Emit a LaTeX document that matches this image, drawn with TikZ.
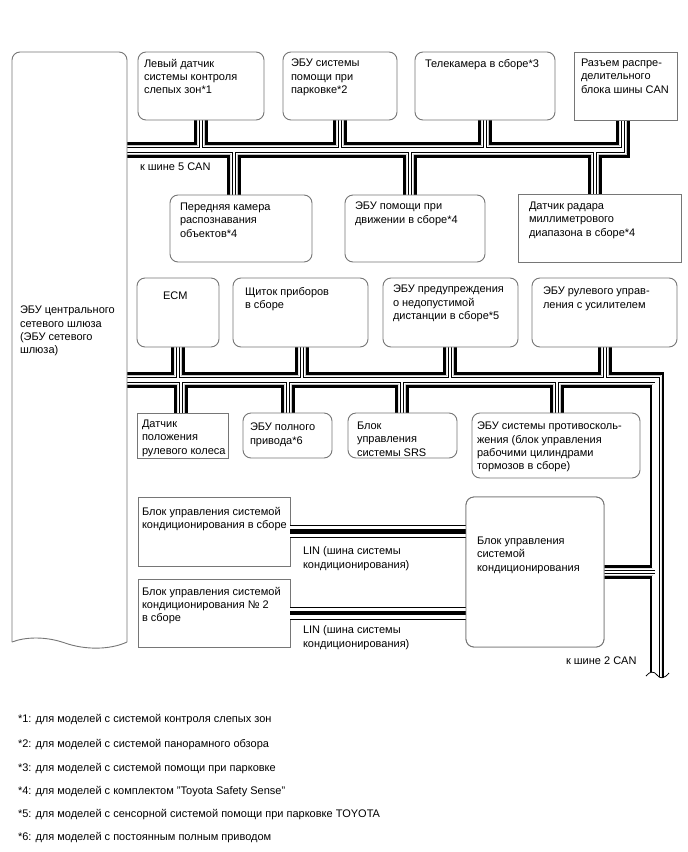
\documentclass[tikz,border=0pt]{standalone}
\usepackage{fontspec}
\setmainfont{Liberation Sans}
\definecolor{bordergray}{RGB}{118,118,118}
\tikzset{
  rbox/.style={draw=bordergray, line width=0.9pt, fill=white, rounded corners=8pt, inner sep=0pt, outer sep=0pt, anchor=north west},
  sbox/.style={draw=bordergray, line width=0.9pt, fill=white, inner sep=0pt, outer sep=0pt, anchor=north west},
  lbl/.style={anchor=north west, inner sep=0pt, outer sep=0pt, align=left, font=\fontsize{11}{13.4}\selectfont},
  note/.style={anchor=north west, inner sep=0pt, outer sep=0pt, align=left, font=\fontsize{11}{12}\selectfont},
  busout/.style={line width=6.8pt, draw=black},
  busgap/.style={line width=1.4pt, draw=white},
  buserase/.style={line width=8.6pt, draw=white},
  busthin/.style={line width=4.8pt, draw=black},
  busthingap/.style={line width=3.0pt, draw=white},
  linout/.style={line width=13pt, draw=black},
  lingap/.style={line width=11pt, draw=white},
  lincore/.style={line width=4.6pt, draw=black},
}
\newcommand\busA[1]{#1 (100,145.5) -- (197.75,145.5) -- (197.75,112) -- (204.25,112) -- (204.25,145.5)
 -- (336.75,145.5) -- (336.75,112) -- (343.25,112) -- (343.25,145.5)
 -- (481.75,145.5) -- (481.75,112) -- (488.25,112) -- (488.25,145.5)
 -- (619.75,145.5) -- (619.75,112) -- (626.25,112) -- (626.25,154.5)
 -- (598.25,154.5) -- (598.25,203) -- (591.75,203) -- (591.75,154.5)
 -- (413.25,154.5) -- (413.25,203) -- (406.75,203) -- (406.75,154.5)
 -- (237.25,154.5) -- (237.25,203) -- (230.75,203) -- (230.75,154.5)
 -- (100,154.5) -- cycle;}
\newcommand\busB[1]{#1 (100,375.5) -- (174.75,375.5) -- (174.75,339) -- (181.25,339) -- (181.25,375.5)
 -- (298.75,375.5) -- (298.75,339) -- (305.25,339) -- (305.25,375.5)
 -- (446.75,375.5) -- (446.75,339) -- (453.25,339) -- (453.25,375.5)
 -- (601.75,375.5) -- (601.75,339) -- (608.25,339) -- (608.25,375.5)
 -- (661,375.5) -- (661,700) -- (653,700) -- (653,575.25) -- (596,575.25) -- (596,568.75) -- (653,568.75)
 -- (653,384.5) -- (560.25,384.5) -- (560.25,421) -- (553.75,421) -- (553.75,384.5)
 -- (405.25,384.5) -- (405.25,421) -- (398.75,421) -- (398.75,384.5)
 -- (291.25,384.5) -- (291.25,421) -- (284.75,421) -- (284.75,384.5)
 -- (184.25,384.5) -- (184.25,421) -- (177.75,421) -- (177.75,384.5)
 -- (100,384.5) -- cycle;}
\begin{document}
\begin{tikzpicture}[x=1pt,y=-1pt]
\useasboundingbox[fill=white] (0,0) rectangle (688,852);

% CAN bus (upper)
\busA{\draw[busout]}
\busA{\draw[busgap]}
\begin{scope}
\busA{\clip}
\busA{\draw[buserase]}
\busA{\draw[busthin]}
\busA{\draw[busthingap]}
\end{scope}

% CAN bus (middle)
\busB{\draw[busout]}
\busB{\draw[busgap]}
\begin{scope}
\busB{\clip}
\busB{\draw[buserase]}
\busB{\draw[busthin]}
\busB{\draw[busthingap]}
\end{scope}

% break of the trunk
\fill[white] (640,676) .. controls (650,671) and (654,671) .. (657,675) .. controls (660,679) and (664,679) .. (674,673) -- (674,710) -- (640,710) -- cycle;
\draw[line width=0.8pt] (646,676) .. controls (650,671) and (654,671) .. (657,675) .. controls (660,679) and (664,679) .. (669,673);

% boxes
\node[sbox, minimum width=152pt, minimum height=69pt] (b16) at (138,497) {};
\node[sbox, minimum width=152pt, minimum height=68pt] (b17) at (138,579) {};
\node[rbox, minimum width=138pt, minimum height=150pt] (b18) at (466,497) {};

% LIN lines
\draw[linout] (b16.east) -- (b16.east -| b18.west);
\draw[lingap] (b16.east) -- (b16.east -| b18.west);
\draw[lincore] (b16.east) -- (b16.east -| b18.west);
\draw[linout] (b17.east) -- (b17.east -| b18.west);
\draw[lingap] (b17.east) -- (b17.east -| b18.west);
\draw[lincore] (b17.east) -- (b17.east -| b18.west);
\node[rbox, minimum width=138pt, minimum height=150pt] at (466,497) {};

% gateway
\draw[draw=bordergray, line width=0.9pt, fill=white, rounded corners=8pt] (127,642) -- (127,52) -- (12,52) -- (12,642);
\draw[draw=bordergray, line width=0.9pt] (12,642) .. controls (25,637) and (45,636) .. (65,643) .. controls (85,650) and (110,650) .. (127,642);
\node[lbl] (gw) at (20,306) {ЭБУ центрального\\сетевого шлюза\\(ЭБУ сетевого\\шлюза)};

\node[rbox, minimum width=126pt, minimum height=68pt] (b1) at (138,52) {};
\node[rbox, minimum width=114pt, minimum height=68pt] (b2) at (283,52) {};
\node[rbox, minimum width=140pt, minimum height=68pt] (b3) at (415,52) {};
\node[sbox, minimum width=103pt, minimum height=68pt] (b4) at (574,52) {};
\node[rbox, minimum width=142pt, minimum height=67pt] (b5) at (170,195) {};
\node[rbox, minimum width=140pt, minimum height=67pt] (b6) at (345,195) {};
\node[sbox, minimum width=163pt, minimum height=68pt] (b7) at (518,194) {};
\node[rbox, minimum width=82pt, minimum height=69pt] (b8) at (137,278) {};
\node[rbox, minimum width=135pt, minimum height=69pt] (b9) at (233,278) {};
\node[rbox, minimum width=135pt, minimum height=69pt] (b10) at (383,278) {};
\node[rbox, minimum width=145pt, minimum height=69pt] (b11) at (532,278) {};
\node[sbox, minimum width=91pt, minimum height=45pt] (b12) at (137,413) {};
\node[rbox, minimum width=89pt, minimum height=45pt] (b13) at (243,413) {};
\node[rbox, minimum width=109pt, minimum height=45pt] (b14) at (348,413) {};
\node[rbox, minimum width=168pt, minimum height=65pt] (b15) at (472,413) {};

% texts
\node[lbl] (t1) at (144,59) {Левый датчик\\системы контроля\\слепых зон*1};
\node[lbl] (t2) at (291,59) {ЭБУ системы\\помощи при\\парковке*2};
\node[lbl] (t3) at (425,59) {Телекамера в сборе*3};
\node[lbl] (t4) at (581,59) {Разъем распре-\\делительного\\блока шины CAN};
\node[lbl] (t5) at (180,203) {Передняя камера\\распознавания\\объектов*4};
\node[lbl] (t6) at (355,202) {ЭБУ помощи при\\движении в сборе*4};
\node[lbl] (t7) at (529,202) {Датчик радара\\миллиметрового\\диапазона в сборе*4};
\node[lbl] (t8) at (163,292) {ECM};
\node[lbl] (t9) at (245,287) {Щиток приборов\\в сборе};
\node[lbl] (t10) at (393,285) {ЭБУ предупреждения\\о недопустимой\\дистанции в сборе*5};
\node[lbl] (t11) at (543,287) {ЭБУ рулевого управ-\\ления с усилителем};
\node[lbl] (t12) at (142,420) {Датчик\\положения\\рулевого колеса};
\node[lbl] (t13) at (250,423) {ЭБУ полного\\привода*6};
\node[lbl] (t14) at (357,422) {Блок\\управления\\системы SRS};
\node[lbl] (t15) at (477,422) {ЭБУ системы противосколь-\\жения (блок управления\\рабочими цилиндрами\\тормозов в сборе)};
\node[lbl] (t16) at (142,507) {Блок управления системой\\кондиционирования в сборе};
\node[lbl] (t17) at (142,587) {Блок управления системой\\кондиционирования № 2\\в сборе};
\node[lbl] (t18) at (477,537) {Блок управления\\системой\\кондиционирования};
\node[lbl] (lin1) at (303,547) {LIN (шина системы\\кондиционирования)};
\node[lbl] (lin2) at (303,626) {LIN (шина системы\\кондиционирования)};
\node[lbl] (can5) at (140,163) {к шине 5 CAN};
\node[lbl] (can2) at (566,657) {к шине 2 CAN};

% footnotes
\node[note] (n1) at (18,714) {*1: для моделей с системой контроля слепых зон};
\node[note] (n2) at (18,739) {*2: для моделей с системой панорамного обзора};
\node[note] (n3) at (18,763) {*3: для моделей с системой помощи при парковке};
\node[note] (n4) at (18,786) {*4: для моделей с комплектом "Toyota Safety Sense"};
\node[note] (n5) at (18,809) {*5: для моделей с сенсорной системой помощи при парковке TOYOTA};
\node[note] (n6) at (18,832) {*6: для моделей с постоянным полным приводом};
\end{tikzpicture}
\end{document}
